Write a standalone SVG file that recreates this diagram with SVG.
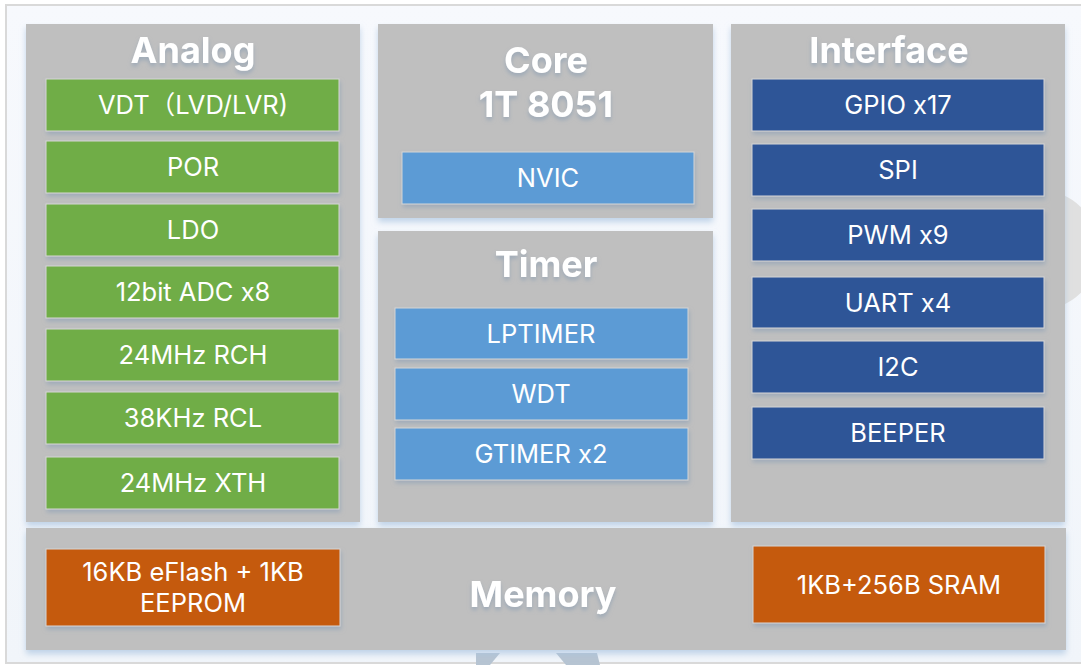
<svg xmlns="http://www.w3.org/2000/svg" width="1081" height="665" viewBox="0 0 1081 665">
<defs>
<filter id="psh" x="-5%" y="-5%" width="110%" height="115%">
<feDropShadow dx="0" dy="4" stdDeviation="3" flood-color="#a9c3e0" flood-opacity="0.7"/>
</filter>
<filter id="bsh" x="-5%" y="-10%" width="110%" height="130%">
<feDropShadow dx="1" dy="3" stdDeviation="2" flood-color="#8b9fb5" flood-opacity="0.6"/>
</filter>
<filter id="tsh" x="-10%" y="-20%" width="120%" height="150%">
<feDropShadow dx="0" dy="3" stdDeviation="2" flood-color="#8c9fb4" flood-opacity="0.7"/>
</filter>
<linearGradient id="bg" x1="0" y1="0" x2="0" y2="1">
<stop offset="0" stop-color="#f7f9fd"/>
<stop offset="1" stop-color="#f1f5fa"/>
</linearGradient>
</defs>
<style>
.panel{fill:#bfbfbf;filter:url(#psh)}
.box{stroke:#d6d6d6;stroke-width:1;filter:url(#bsh)}
.g{fill:#70ad47}
.lb{fill:#5b9bd5}
.db{fill:#2f5597}
.or{fill:#c55a11}
.t{font-family:Inter,"Noto Sans","Noto Sans CJK SC",sans-serif;font-size:25.5px;fill:#ffffff;text-anchor:middle}
.h{font-family:Inter,"Noto Sans",sans-serif;font-size:36px;font-weight:bold;fill:#ffffff;text-anchor:middle;filter:url(#tsh)}
</style>
<rect x="0" y="0" width="1081" height="665" fill="#ffffff"/>
<rect x="6" y="5" width="1090" height="658" fill="url(#bg)" stroke="#d9d9d9" stroke-width="2"/>
<circle cx="1039" cy="250" r="60" fill="#e0e0e0"/>
<polygon points="476,653 500,653 490,665 476,665" fill="#b6c4d2"/>
<polygon points="556,653 597,653 600,665 566,665" fill="#b6c4d2"/>

<g id="analog">
<rect class="panel" x="26" y="24" width="334" height="498"/>
<text class="h" x="193" y="63">Analog</text>
</g>
<g id="vdt"><rect class="box g" x="46" y="79" width="293" height="52"/><text class="t" x="193" y="114">VDT（LVD/LVR)</text></g>
<g id="por"><rect class="box g" x="46" y="141" width="293" height="52"/><text class="t" x="193" y="176">POR</text></g>
<g id="ldo"><rect class="box g" x="46" y="204" width="293" height="52"/><text class="t" x="193" y="239">LDO</text></g>
<g id="adc"><rect class="box g" x="46" y="266" width="293" height="52"/><text class="t" x="193" y="301">12bit ADC x8</text></g>
<g id="rch"><rect class="box g" x="46" y="329" width="293" height="52"/><text class="t" x="193" y="364">24MHz RCH</text></g>
<g id="rcl"><rect class="box g" x="46" y="392" width="293" height="52"/><text class="t" x="193" y="427">38KHz RCL</text></g>
<g id="xth"><rect class="box g" x="46" y="457" width="293" height="52"/><text class="t" x="193" y="492">24MHz XTH</text></g>

<g id="core">
<rect class="panel" x="378" y="24" width="335" height="194"/>
<text class="h" x="546" y="73">Core</text>
<text class="h" x="546" y="117">1T 8051</text>
</g>
<g id="nvic"><rect class="box lb" x="402" y="152" width="292" height="52"/><text class="t" x="548" y="187">NVIC</text></g>

<g id="timer">
<rect class="panel" x="378" y="231" width="335" height="291"/>
<text class="h" x="546" y="277">Timer</text>
</g>
<g id="lptimer"><rect class="box lb" x="395" y="308" width="293" height="51"/><text class="t" x="541" y="343">LPTIMER</text></g>
<g id="wdt"><rect class="box lb" x="395" y="368" width="293" height="52"/><text class="t" x="541" y="403">WDT</text></g>
<g id="gtimer"><rect class="box lb" x="395" y="428" width="293" height="52"/><text class="t" x="541" y="463">GTIMER x2</text></g>

<g id="interface">
<rect class="panel" x="731" y="24" width="334" height="498"/>
<text class="h" x="889" y="63">Interface</text>
</g>
<g id="gpio"><rect class="box db" x="752" y="79" width="292" height="52"/><text class="t" x="898" y="114">GPIO x17</text></g>
<g id="spi"><rect class="box db" x="752" y="144" width="292" height="52"/><text class="t" x="898" y="179">SPI</text></g>
<g id="pwm"><rect class="box db" x="752" y="209" width="292" height="52"/><text class="t" x="898" y="244">PWM x9</text></g>
<g id="uart"><rect class="box db" x="752" y="277" width="292" height="51"/><text class="t" x="898" y="312">UART x4</text></g>
<g id="i2c"><rect class="box db" x="752" y="341" width="292" height="52"/><text class="t" x="898" y="376">I2C</text></g>
<g id="beeper"><rect class="box db" x="752" y="407" width="292" height="52"/><text class="t" x="898" y="442">BEEPER</text></g>

<g id="memory">
<rect class="panel" x="26" y="528" width="1040" height="122"/>
<text class="h" x="543" y="607">Memory</text>
</g>
<g id="eflash"><rect class="box or" x="46" y="549" width="294" height="77"/><text class="t" x="193" y="581">16KB eFlash + 1KB</text><text class="t" x="193" y="612">EEPROM</text></g>
<g id="sram"><rect class="box or" x="753" y="546" width="292" height="77"/><text class="t" x="899" y="594">1KB+256B SRAM</text></g>

<g id="connectors"></g>
</svg>
